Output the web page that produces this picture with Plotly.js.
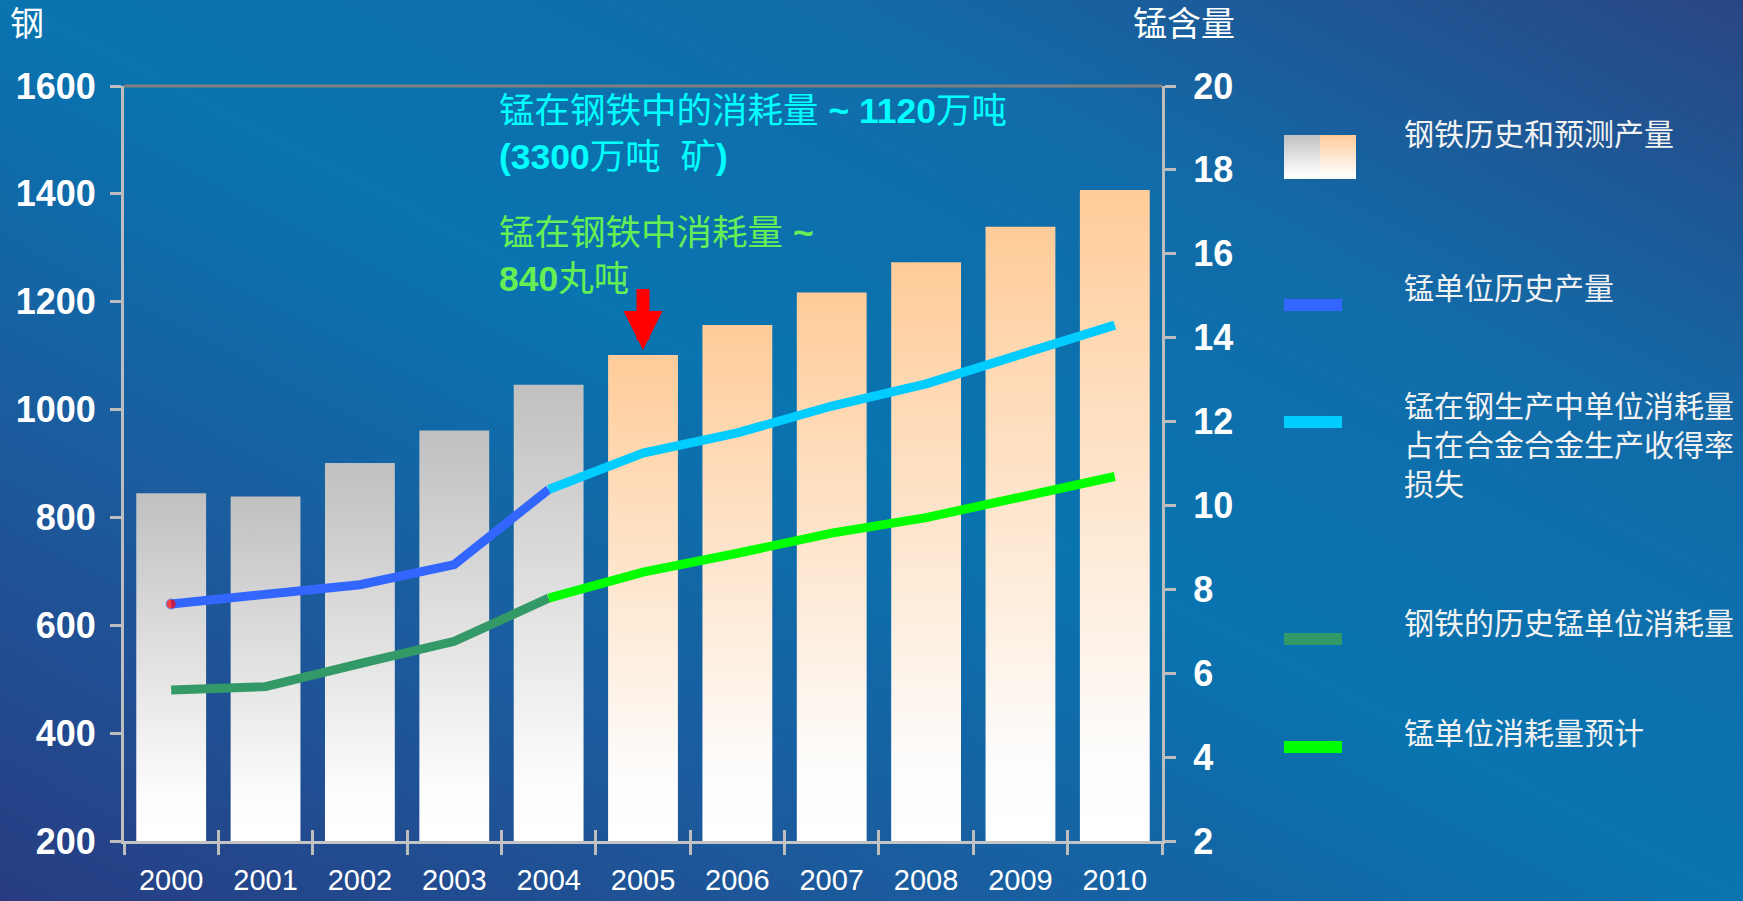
<!DOCTYPE html>
<html>
<head>
<meta charset="utf-8">
<script src="https://cdn.plot.ly/plotly-3.0.1.min.js"></script>
<style>
  html, body { margin: 0; padding: 0; }
  body {
    width: 1743px; height: 901px; overflow: hidden;
    background: linear-gradient(to top right, #283c82 0%, #1b5c9e 27%, #0874b0 50%, #116ca9 73%, #2a4584 100%);
  }
  #chart { width: 1743px; height: 901px; }
</style>
</head>
<body>
<div id="chart"></div>
<script>
// 年份
const years = ['2000', '2001', '2002', '2003', '2004', '2005', '2006', '2007', '2008', '2009', '2010'];

// 钢铁产量 (左轴): 2000-2004 历史, 2005-2010 预测
const steelHistory = [845, 839, 901, 961, 1046];
const steelForecast = [1101, 1157, 1217, 1273, 1339, 1407];

// 右轴 (锰含量)
const mnUnitHistory = [7.65, 7.87, 8.11, 8.59, 10.38];                  // 锰单位历史产量 2000-2004
const mnUnitForecast = [10.38, 11.25, 11.73, 12.37, 12.90, 13.61, 14.30]; // 锰在钢生产中单位消耗量 2004-2010
const mnUseHistory = [5.60, 5.68, 6.23, 6.76, 7.79];                     // 钢铁的历史锰单位消耗量 2000-2004
const mnUseForecast = [7.79, 8.41, 8.86, 9.34, 9.71, 10.21, 10.69];      // 锰单位消耗量预计 2004-2010

const leftTicks = [200, 400, 600, 800, 1000, 1200, 1400, 1600];
const rightTicks = [2, 4, 6, 8, 10, 12, 14, 16, 18, 20];

// 画布几何 (像素 -> paper 坐标)
const W = 1743, H = 901;
const M = { l: 124, r: 581, t: 86, b: 60 };
const PW = W - M.l - M.r;
const PH = H - M.t - M.b;
const px = x => (x - M.l) / PW;
const py = y => (H - M.b - y) / PH;

const axisGray = '#bdbdbd';
const latin = 'Liberation Sans, Arial, Noto Sans CJK SC';
const cjk = 'Liberation Sans, Noto Sans CJK SC';

// 柱子: 每根一个带竖向渐变的填充多边形
const steel = steelHistory.concat(steelForecast);
const base = leftTicks[0];
const barHalf = 0.37;
const bars = steel.map((v, i) => {
  const top = i < steelHistory.length ? '#c0c0c0' : '#ffcc99';
  return {
    type: 'scatter', mode: 'none', xaxis: 'x', yaxis: 'y',
    x: [i - barHalf, i + barHalf, i + barHalf, i - barHalf, i - barHalf],
    y: [base, base, v, v, base],
    fill: 'toself',
    fillgradient: { type: 'vertical', colorscale: [[0, '#ffffff'], [0.12, '#fdfdfd'], [1, top]] },
    name: years[i], hoverinfo: 'skip', showlegend: false
  };
});

function line(x, y, color, extra) {
  return Object.assign({
    type: 'scatter', mode: 'lines', x: x, y: y, xaxis: 'x2', yaxis: 'y2',
    line: { color: color, width: 9 }, showlegend: false
  }, extra || {});
}

const histYears = years.slice(0, mnUnitHistory.length);
const fcYears = years.slice(mnUnitHistory.length - 1);

const lines = [
  line(histYears, mnUseHistory, '#339966'),
  line(fcYears, mnUseForecast, '#00ff00'),
  line(histYears, mnUnitHistory, '#3366ff', {
    mode: 'lines+markers',
    marker: { color: '#ff0000', size: histYears.map((_, i) => i === 0 ? 10 : 0) }
  }),
  line(fcYears, mnUnitForecast, '#00ccff')
];

const boundaries = years.map((_, i) => i - 0.5).concat(years.length - 0.5);
const xr = [-0.5, years.length - 0.5];

const tickStyle = { ticklen: 11, tickwidth: 3, tickcolor: axisGray, showgrid: false, zeroline: false, fixedrange: true };

// 图例
const swatchSvg =
  '<svg xmlns="http://www.w3.org/2000/svg" width="72" height="44">' +
  '<defs><linearGradient id="g" x1="0" y1="0" x2="0" y2="1"><stop offset="0" stop-color="#c0c0c0"/><stop offset="0.9" stop-color="#fefefe"/></linearGradient>' +
  '<linearGradient id="p" x1="0" y1="0" x2="0" y2="1"><stop offset="0" stop-color="#ffcc99"/><stop offset="0.9" stop-color="#fffdfb"/></linearGradient></defs>' +
  '<rect x="0" y="0" width="36" height="44" fill="url(#g)"/><rect x="36" y="0" width="36" height="44" fill="url(#p)"/></svg>';

const legendItems = [
  { text: '钢铁历史和预测产量', y: 135 },
  { text: '锰单位历史产量', y: 288, color: '#3366ff', sy: 305 },
  { text: '锰在钢生产中单位消耗量<br>占在合金合金生产收得率<br>损失', y: 445, color: '#00ccff', sy: 422 },
  { text: '钢铁的历史锰单位消耗量', y: 623, color: '#339966', sy: 639 },
  { text: '锰单位消耗量预计', y: 733, color: '#00ff00', sy: 747 }
];

const shapes = [
  { type: 'line', xref: 'paper', yref: 'paper', x0: 0, x1: 1, y0: 1, y1: 1, line: { color: '#808080', width: 3 } }
];
legendItems.forEach(it => {
  if (!it.color) return;
  shapes.push({
    type: 'rect', xref: 'paper', yref: 'paper', line: { width: 0 }, fillcolor: it.color,
    x0: px(1284), x1: px(1342), y0: py(it.sy + 6), y1: py(it.sy - 6)
  });
});

const annotations = [
  { text: '钢', x: px(27), y: py(24) },
  { text: '锰含量', x: px(1184), y: py(24) },
].map(a => Object.assign({
  xref: 'paper', yref: 'paper', showarrow: false, xanchor: 'center', yanchor: 'middle',
  font: { family: cjk, size: 34, color: '#ffffff' }
}, a));

legendItems.forEach(it => {
  annotations.push({
    xref: 'paper', yref: 'paper', x: px(1402), y: py(it.y), xanchor: 'left', yanchor: 'middle',
    align: 'left', showarrow: false, text: it.text,
    font: { family: cjk, size: 30, color: '#f2f2f2' }
  });
});

annotations.push(
  {
    xref: 'paper', yref: 'paper', x: px(497), y: py(134), xanchor: 'left', yanchor: 'middle', align: 'left',
    showarrow: false, text: '锰在钢铁中的消耗量 <b>~ 1120</b>万吨<br><b>(3300</b>万吨  矿<b>)</b>',
    font: { family: cjk, size: 35.5, color: '#00ffff' }
  },
  {
    xref: 'paper', yref: 'paper', x: px(497), y: py(256), xanchor: 'left', yanchor: 'middle', align: 'left',
    showarrow: false, text: '锰在钢铁中消耗量 <b>~</b><br><b>840</b>丸吨',
    font: { family: cjk, size: 35.5, color: '#66ee55' }
  },
  {
    // 红色箭头指向 2005 年的柱子
    xref: 'x', yref: 'y', x: steelHistory.length, y: steelForecast[0], ax: 0, ay: -70, text: ' ',
    font: { size: 4 },
    showarrow: true, arrowhead: 2, arrowsize: 0.6, arrowwidth: 13, arrowcolor: '#ff0000', standoff: 5
  }
);

const layout = {
  width: W, height: H, autosize: false, margin: M,
  paper_bgcolor: 'rgba(0,0,0,0)', plot_bgcolor: 'rgba(0,0,0,0)',
  showlegend: false,
  font: { family: latin, color: '#ffffff' },
  xaxis: Object.assign({}, tickStyle, {
    range: xr, tickvals: boundaries, ticks: 'inside', showticklabels: false, showline: false
  }),
  xaxis2: Object.assign({}, tickStyle, {
    overlaying: 'x', anchor: 'y', side: 'bottom', type: 'category',
    categoryorder: 'array', categoryarray: years, range: xr,
    tickson: 'boundaries', ticks: 'outside', showline: true, linewidth: 3, linecolor: '#c4c4c4',
    tickfont: { family: latin, size: 29, color: '#ffffff' }, ticklabelstandoff: 11
  }),
  yaxis: Object.assign({}, tickStyle, {
    range: [base, leftTicks[leftTicks.length - 1]], tickvals: leftTicks, ticks: 'outside',
    showline: true, linewidth: 3, linecolor: axisGray,
    tickfont: { family: latin, size: 36, color: '#ffffff', weight: 'bold' }, ticklabelstandoff: 7
  }),
  yaxis2: Object.assign({}, tickStyle, {
    overlaying: 'y', side: 'right', anchor: 'x',
    range: [rightTicks[0], rightTicks[rightTicks.length - 1]], tickvals: rightTicks, ticks: 'outside',
    showline: true, linewidth: 3, linecolor: axisGray,
    tickfont: { family: latin, size: 36, color: '#ffffff', weight: 'bold' }, ticklabelstandoff: 10
  }),
  yaxis3: Object.assign({}, tickStyle, {
    overlaying: 'y', side: 'left', anchor: 'x',
    range: [base, leftTicks[leftTicks.length - 1]], tickvals: leftTicks, ticks: 'inside',
    showticklabels: false, showline: false
  }),
  yaxis4: Object.assign({}, tickStyle, {
    overlaying: 'y', side: 'right', anchor: 'x',
    range: [rightTicks[0], rightTicks[rightTicks.length - 1]], tickvals: rightTicks, ticks: 'inside',
    showticklabels: false, showline: false
  }),
  shapes: shapes,
  annotations: annotations,
  images: [{
    source: 'data:image/svg+xml;charset=utf-8,' + encodeURIComponent(swatchSvg),
    xref: 'paper', yref: 'paper', x: px(1284), y: py(135), sizex: 72 / PW, sizey: 44 / PH,
    xanchor: 'left', yanchor: 'top', sizing: 'stretch', layer: 'above'
  }]
};

Plotly.newPlot('chart', bars.concat(lines), layout, { displayModeBar: false, staticPlot: true });
</script>
</body>
</html>
